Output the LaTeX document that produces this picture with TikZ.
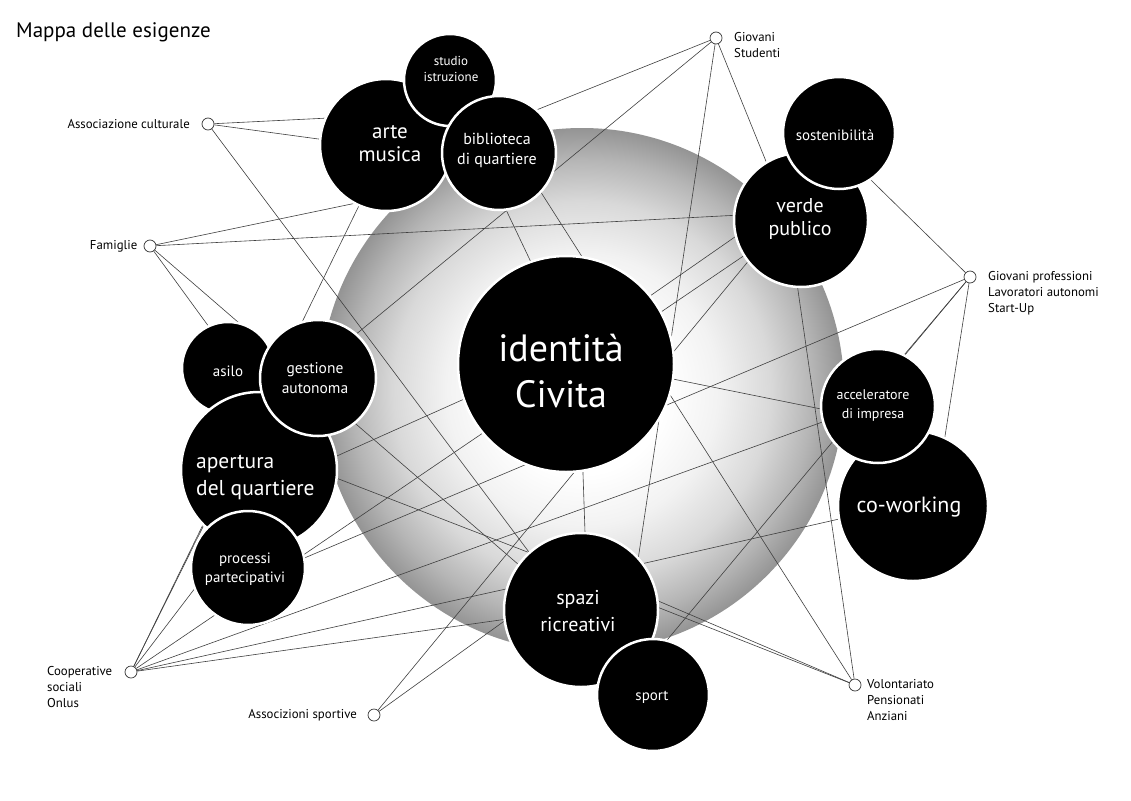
\documentclass[tikz,border=0pt]{standalone}
\usepackage{fontspec}
\setmainfont{PT Sans}
\pgfdeclarelayer{back}
\pgfdeclarelayer{lines}
\pgfsetlayers{back,lines,main}
\pgfdeclareradialshading{sphereshade}{\pgfpoint{0bp}{0bp}}{color(0bp)=(white); color(8bp)=(white); color(13bp)=(black!5); color(18bp)=(black!15); color(22bp)=(black!29); color(25bp)=(black!42); color(50bp)=(black!42)}
\tikzset{
  bub/.style={circle, fill=black, draw=white, line width=2.5pt, inner sep=0pt, outer sep=0pt},
  wt/.style={text=white, align=center, inner sep=0pt},
  wtl/.style={text=white, align=left, inner sep=0pt},
  dot/.style={circle, draw=black!80, fill=white, line width=0.7pt, minimum size=12pt, inner sep=0pt},
  lab/.style={font=\fontsize{12.8}{16}\selectfont, inner sep=0pt, align=left},
  cn/.style={draw=black!75, line width=0.6pt},
}
\begin{document}
\begin{tikzpicture}[x=1pt,y=-1pt]
\useasboundingbox (0,0) rectangle (1131,800);
\begin{pgfonlayer}{back}
\fill[white] (0,0) rectangle (1131,800);
\shade[shading=sphereshade] (582,390) circle [radius=262];
\end{pgfonlayer}

% big circles
\node[bub, minimum size=216pt] (iden) at (566,364) {};
\node[bub, minimum size=132pt] (arte) at (386,145) {};
\node[bub, minimum size=92pt] (stud) at (450,80) {};
\node[bub, minimum size=114pt] (bib) at (499,153) {};
\node[bub, minimum size=92pt] (asilo) at (228,368) {};
\node[bub, minimum size=156pt] (apert) at (259,470) {};
\node[bub, minimum size=116pt] (gest) at (318,378) {};
\node[bub, minimum size=114pt] (proc) at (248,568) {};
\node[bub, minimum size=134pt] (verde) at (801,220) {};
\node[bub, minimum size=112pt] (sost) at (839,133) {};
\node[bub, minimum size=150pt] (cowork) at (913,506) {};
\node[bub, minimum size=114pt] (accel) at (878,406) {};
\node[bub, minimum size=154pt] (spazi) at (581,610) {};
\node[bub, minimum size=112pt] (sport) at (653,695) {};

% small circles
\node[dot] (A) at (208,124) {};
\node[dot] (F) at (150,246) {};
\node[dot] (G) at (716,38) {};
\node[dot] (P) at (970,277) {};
\node[dot] (C) at (131,672) {};
\node[dot] (S) at (374,715) {};
\node[dot] (V) at (855,685) {};

% connectors
\begin{pgfonlayer}{lines}
\draw[cn] (A) -- (arte.156.5);
\draw[cn] (A) -- (arte.175.7);
\draw[cn] (A) -- (spazi.132.4);
\draw[cn] (F) -- (arte.242.7);
\draw[cn] (F) -- (verde.176.6);
\draw[cn] (F) -- (asilo.115);
\draw[cn] (F) -- (spazi.144.9);
\draw[cn] (G) -- (bib.49.1);
\draw[cn] (G) -- (gest.49.7);
\draw[cn] (G) -- (spazi.42.9);
\draw[cn] (G) -- (verde.121.7);
\draw[cn] (P) -- (sost.304.8);
\draw[cn] (P) -- (proc.10.9);
\draw[cn] (P) -- (accel.63);
\draw[cn] (P) -- (cowork.65);
\draw[cn] (P) -- (sport.76.2);
\draw[cn] (V) -- (verde.267.4);
\draw[cn] (V) -- (bib.317.1);
\draw[cn] (V) -- (spazi.7.4);
\draw[cn] (V) -- (spazi.2.2);
\draw[cn] (C) -- (arte.246);
\draw[cn] (C) -- (apert.225.5);
\draw[cn] (C) -- (proc.201.8);
\draw[cn] (C) -- (verde.212.8);
\draw[cn] (C) -- (accel.196.3);
\draw[cn] (C) -- (spazi.164.3);
\draw[cn] (C) -- (spazi.187.3);
\draw[cn] (S) -- (spazi.188.7);
\draw[cn] (S) -- (verde.218.5);
\draw[cn] (verde.194) -- (iden.39.4);
\draw[cn] (bib.277.7) -- (iden.109.1);
\draw[cn] (apert.10.9) -- (iden.199.1);
\draw[cn] (apert.354.9) -- (spazi.132.9);
\draw[cn] (iden.279) -- (spazi.87);
\draw[cn] (iden.352.5) -- (accel.183);
\draw[cn] (spazi.37.3) -- (cowork.190.6);
\end{pgfonlayer}

% texts in circles
\node[wt, font=\fontsize{38}{46}\selectfont] (tiden) at (561,371) {identità\\Civita};
\node[wt, font=\fontsize{21}{23}\selectfont] (tarte) at (390,144) {arte\\musica};
\node[wt, font=\fontsize{13}{16}\selectfont] (tstud) at (451,69) {studio\\istruzione};
\node[wt, font=\fontsize{16}{20}\selectfont] (tbib) at (497,150) {biblioteca\\di quartiere};
\node[wt, font=\fontsize{15}{18}\selectfont] (tasilo) at (228,371) {asilo};
\node[wt, font=\fontsize{15.5}{20}\selectfont] (tgest) at (315,378) {gestione\\autonoma};
\node[wtl, font=\fontsize{21.5}{27}\selectfont, anchor=west] (tapert) at (196,477) {apertura\\del quartiere};
\node[wt, font=\fontsize{15}{19}\selectfont] (tproc) at (245,569) {processi\\partecipativi};
\node[wt, font=\fontsize{20}{23}\selectfont] (tverde) at (800,219) {verde\\publico};
\node[wt, font=\fontsize{15}{18}\selectfont] (tsost) at (835,135) {sostenibilità};
\node[wt, font=\fontsize{14}{19}\selectfont] (taccel) at (873,405) {acceleratore\\di impresa};
\node[wt, font=\fontsize{22}{26}\selectfont] (tcow) at (909,507) {co-working};
\node[wt, font=\fontsize{20}{27}\selectfont] (tspazi) at (578,611) {spazi\\ricreativi};
\node[wt, font=\fontsize{15}{18}\selectfont] (tsport) at (652,697) {sport};

% labels
\node[anchor=west, inner sep=0pt, font=\fontsize{21}{24}\selectfont] (title) at (16,32) {Mappa delle esigenze};
\node[lab, anchor=east] (tA) at (190,124) {Associazione culturale};
\node[lab, anchor=east] (tF) at (137.5,246) {Famiglie};
\node[lab, anchor=north west] (tG) at (734,32) {Giovani\\Studenti};
\node[lab, anchor=north west] (tP) at (988,271) {Giovani professioni\\Lavoratori autonomi\\Start-Up};
\node[lab, anchor=north west] (tC) at (47,666) {Cooperative\\sociali\\Onlus};
\node[lab, anchor=east] (tS) at (357,715) {Associzioni sportive};
\node[lab, anchor=north west] (tV) at (867,679) {Volontariato\\Pensionati\\Anziani};
\end{tikzpicture}
\end{document}
